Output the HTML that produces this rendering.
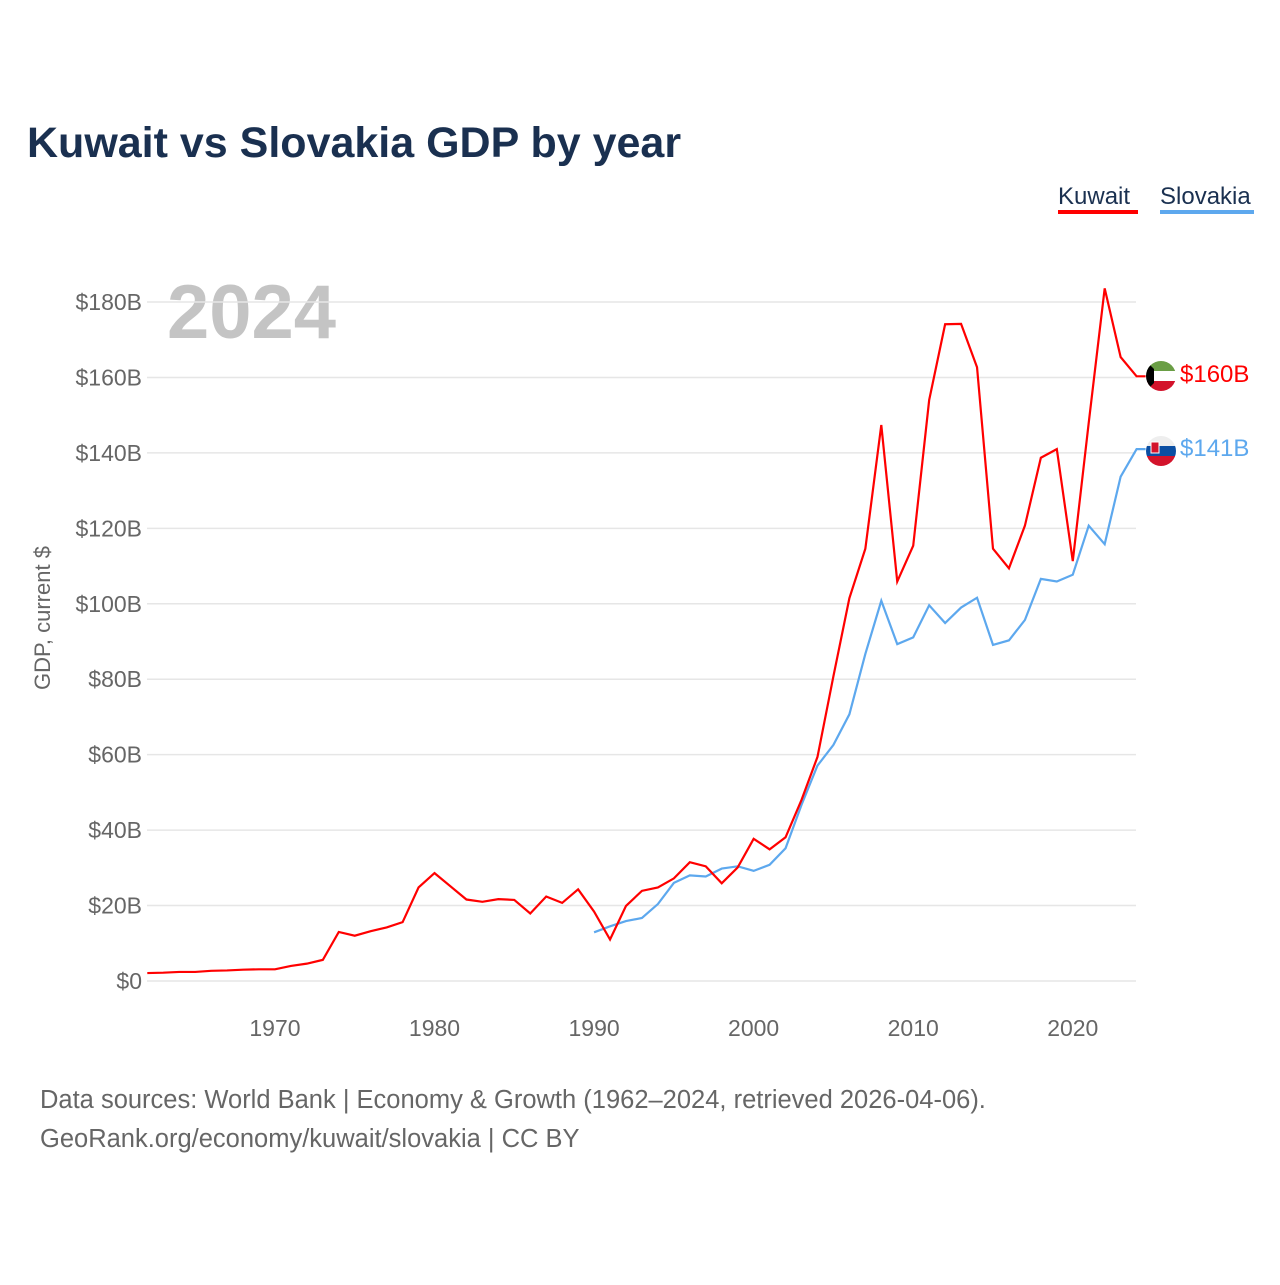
<!DOCTYPE html>
<html><head><meta charset="utf-8"><style>
body{margin:0;background:#fff;font-family:"Liberation Sans",sans-serif}
svg text{font-family:"Liberation Sans",sans-serif}
</style></head><body>
<svg id="chart" width="1280" height="1280" xmlns="http://www.w3.org/2000/svg">
<text x="27" y="157" font-size="43" font-weight="bold" fill="#1a3050">Kuwait vs Slovakia GDP by year</text>
<g><text x="1058" y="204" font-size="24" fill="#1a3050">Kuwait</text><rect x="1058" y="210" width="80" height="4" fill="#ff0000"/></g>
<g><text x="1160" y="204" font-size="24" fill="#1a3050">Slovakia</text><rect x="1160" y="210" width="94" height="4" fill="#5da8ee"/></g>
<text x="167" y="338" font-size="76" font-weight="bold" fill="#c4c4c4">2024</text>
<text transform="translate(50,618) rotate(-90)" text-anchor="middle" font-size="22" fill="#666">GDP, current $</text>
<g id="grid"></g><g id="yt"></g><g id="xt"></g><g id="lines"></g>
<g>
<clipPath id="c1"><circle cx="1161" cy="376" r="15"/></clipPath>
<g clip-path="url(#c1)"><rect x="1146" y="361" width="30" height="10" fill="#6a9e45"/><rect x="1146" y="371" width="30" height="10" fill="#fff"/><rect x="1146" y="381" width="30" height="10" fill="#d3132b"/><polygon points="1146,361 1154,369 1154,383 1146,391" fill="#000"/></g></g>
<g>
<clipPath id="c2"><circle cx="1161" cy="451" r="15"/></clipPath>
<g clip-path="url(#c2)"><rect x="1146" y="436" width="30" height="10" fill="#eee"/><rect x="1146" y="446" width="30" height="10" fill="#0b4ea2"/><rect x="1146" y="456" width="30" height="10" fill="#d3132b"/><rect x="1151" y="442" width="8" height="11" fill="#d3132b" stroke="#fff"/></g></g>
<text x="1180" y="382" font-size="24" fill="#ff0000">$160B</text>
<text x="1180" y="456" font-size="24" fill="#5da8ee">$141B</text>
<text x="40" y="1108" font-size="25.5" fill="#666">Data sources: World Bank | Economy &amp; Growth (1962–2024, retrieved 2026-04-06).</text>
<text x="40" y="1147" font-size="25.5" fill="#666">GeoRank.org/economy/kuwait/slovakia | CC BY</text>
</svg>
<script>
const kwYears=[];for(let y=1962;y<=2024;y++)kwYears.push(y);
const kuwait=[2.1,2.2,2.4,2.4,2.7,2.8,3.0,3.1,3.1,4.0,4.6,5.6,13.0,12.0,13.2,14.2,15.6,24.8,28.6,25.1,21.6,21.0,21.7,21.5,17.9,22.4,20.7,24.3,18.4,11.0,19.9,23.9,24.8,27.2,31.5,30.4,25.9,30.1,37.7,34.9,38.1,48.0,59.4,80.8,101.5,114.6,147.4,105.9,115.4,154.0,174.1,174.2,162.7,114.6,109.4,120.7,138.7,141.0,111.3,148.0,183.6,165.4,160.3];
const skYears=[];for(let y=1990;y<=2024;y++)skYears.push(y);
const slovakia=[12.9,14.5,15.9,16.7,20.4,26.0,28.0,27.7,29.8,30.4,29.2,30.8,35.2,46.7,57.1,62.6,70.7,86.7,100.8,89.3,91.1,99.6,94.9,99.0,101.6,89.1,90.3,95.7,106.6,105.9,107.7,120.7,115.8,133.7,141.0];
const yTicks=[0,20,40,60,80,100,120,140,160,180];
const xTicks=[1970,1980,1990,2000,2010,2020];
const X=y=>147.3+(y-1962)*(1136.6-147.3)/62;
const Y=v=>981-v*(981-302)/180;
const NS="http://www.w3.org/2000/svg";
function mk(t,a,p){const e=document.createElementNS(NS,t);for(const k in a)e.setAttribute(k,a[k]);p.appendChild(e);return e;}
const g=document.getElementById('grid'),yt=document.getElementById('yt'),xt=document.getElementById('xt'),ln=document.getElementById('lines');
yTicks.forEach(v=>{
const l=mk('line',{x1:147,x2:1136,y1:Y(v),y2:Y(v),stroke:'#e6e6e6','stroke-width':1.5},g);


const t=mk('text',{x:142,y:Y(v)+8,'text-anchor':'end','font-size':23,fill:'#666'},yt);t.textContent='$'+v+(v?'B':'');


});
xTicks.forEach(y=>{
const t=mk('text',{x:X(y),y:1036,'text-anchor':'middle','font-size':23,fill:'#666'},xt);t.textContent=y;


});
function line(xs,vs,c,name){
const last=xs.length-1;
const pts=xs.map((y,i)=>X(y)+','+Y(vs[i]));
pts.push((X(xs[last])+9)+','+Y(vs[last]));
const p=mk('polyline',{points:pts.join(' '),fill:'none',stroke:c,'stroke-width':2.2,'stroke-linejoin':'miter'},ln);


}
line(skYears,slovakia,'#5da8ee','slovakia-line');
line(kwYears,kuwait,'#ff0000','kuwait-line');
</script>
</body></html>
